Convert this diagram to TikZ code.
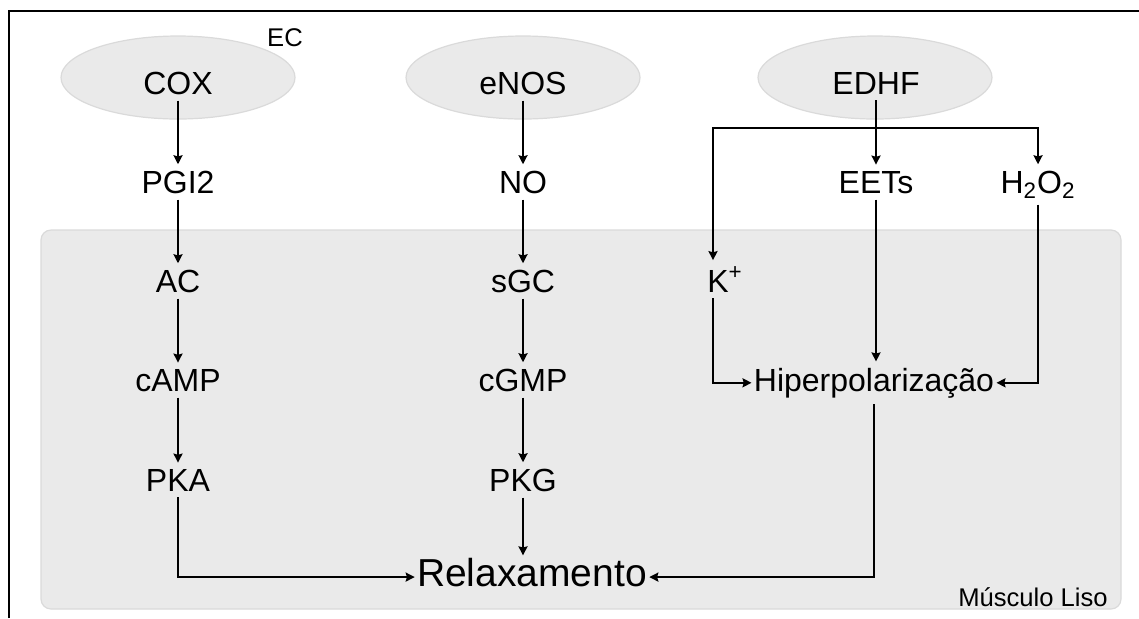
\documentclass[tikz,border=0pt]{standalone}
\usepackage{fontspec}
\setmainfont{Liberation Sans}
\usetikzlibrary{arrows.meta,shapes.geometric}
\definecolor{cellfill}{HTML}{EAEAEA}
\definecolor{celledge}{HTML}{DADADA}
\tikzset{
  lbl/.style   ={anchor=base,inner xsep=1pt,inner ysep=3pt,font=\fontsize{16}{19}\selectfont},
  big/.style   ={lbl,inner ysep=1pt,font=\fontsize{19.5}{23}\selectfont},
  tag/.style   ={inner sep=1pt,font=\fontsize{12.8}{15}\selectfont},
  cell/.style  ={ellipse,draw=celledge,fill=cellfill,line width=0.6pt,minimum width=117pt,minimum height=41.5pt},
  tissue/.style={draw=celledge,fill=cellfill,line width=0.6pt,rounded corners=5pt},
  ar/.style    ={-{Stealth[length=4.5pt,width=4.5pt,inset=0.6pt]},line width=1pt},
}
\begin{document}
\begin{tikzpicture}[x=0.5pt,y=-0.5pt]
  \useasboundingbox (0,0) rectangle (1139,618);
  \draw[line width=1pt] (9,618) -- (9,11) -- (1139,11);
  \path[tissue] (41,230) rectangle (1121,609);
  \node[cell] (ccox) at (178,77.5) {}; \node[cell] (cenos) at (523,77.5) {}; \node[cell] (cedhf) at (875,77.5) {};
  \node[tag] (ec) at (285,38) {EC};
  \node[tag] (musc) at (1033,597) {Músculo Liso};
  \node[lbl] (cox) at (178,94) {COX}; \node[lbl] (pgi) at (178,193) {PGI2};
  \node[lbl] (ac) at (178,292) {AC}; \node[lbl] (camp) at (178,391) {cAMP};
  \node[lbl] (pka) at (178,491) {PKA};
  \node[lbl] (enos) at (523,94) {eNOS}; \node[lbl] (no) at (523,193) {NO};
  \node[lbl] (sgc) at (523,292) {sGC}; \node[lbl] (cgmp) at (523,391) {cGMP};
  \node[lbl] (pkg) at (523,491) {PKG};
  \node[lbl] (edhf) at (876,94) {EDHF}; \node[lbl] (eets) at (876,193) {EETs};
  \node[lbl] (hoo) at (1038,193) {H\textsubscript{2}O\textsubscript{2}};
  \node[lbl] (kp) at (725,292) {K\textsuperscript{+}};
  \node[lbl] (hyp) at (874,391) {Hiperpolarização};
  \node[big] (rel) at (532,586) {Relaxamento};
  \draw[ar] (cox) -- (pgi); \draw[ar] (pgi) -- (ac); \draw[ar] (ac) -- (camp); \draw[ar] (camp) -- (pka);
  \draw[ar] (enos) -- (no); \draw[ar] (no) -- (sgc); \draw[ar] (sgc) -- (cgmp); \draw[ar] (cgmp) -- (pkg);
  \draw[ar] (pka) |- ([yshift=-2.5pt]rel.west);
  \draw[ar] (pkg) -- (pkg |- rel.north);
  \draw[ar] (edhf) -- (eets);
  \coordinate (fork) at (876,128);
  \draw[ar] (fork) -| ([xshift=-6pt]kp.north);
  \draw[ar] (fork) -| (hoo);
  \draw[ar] ([xshift=-6pt]kp.south) |- (hyp);
  \draw[ar] (eets) -- (eets |- hyp.north);
  \draw[ar] (hoo) |- (hyp);
  \draw[ar] (hyp) |- ([yshift=-2.5pt]rel.east);
\end{tikzpicture}
\end{document}
